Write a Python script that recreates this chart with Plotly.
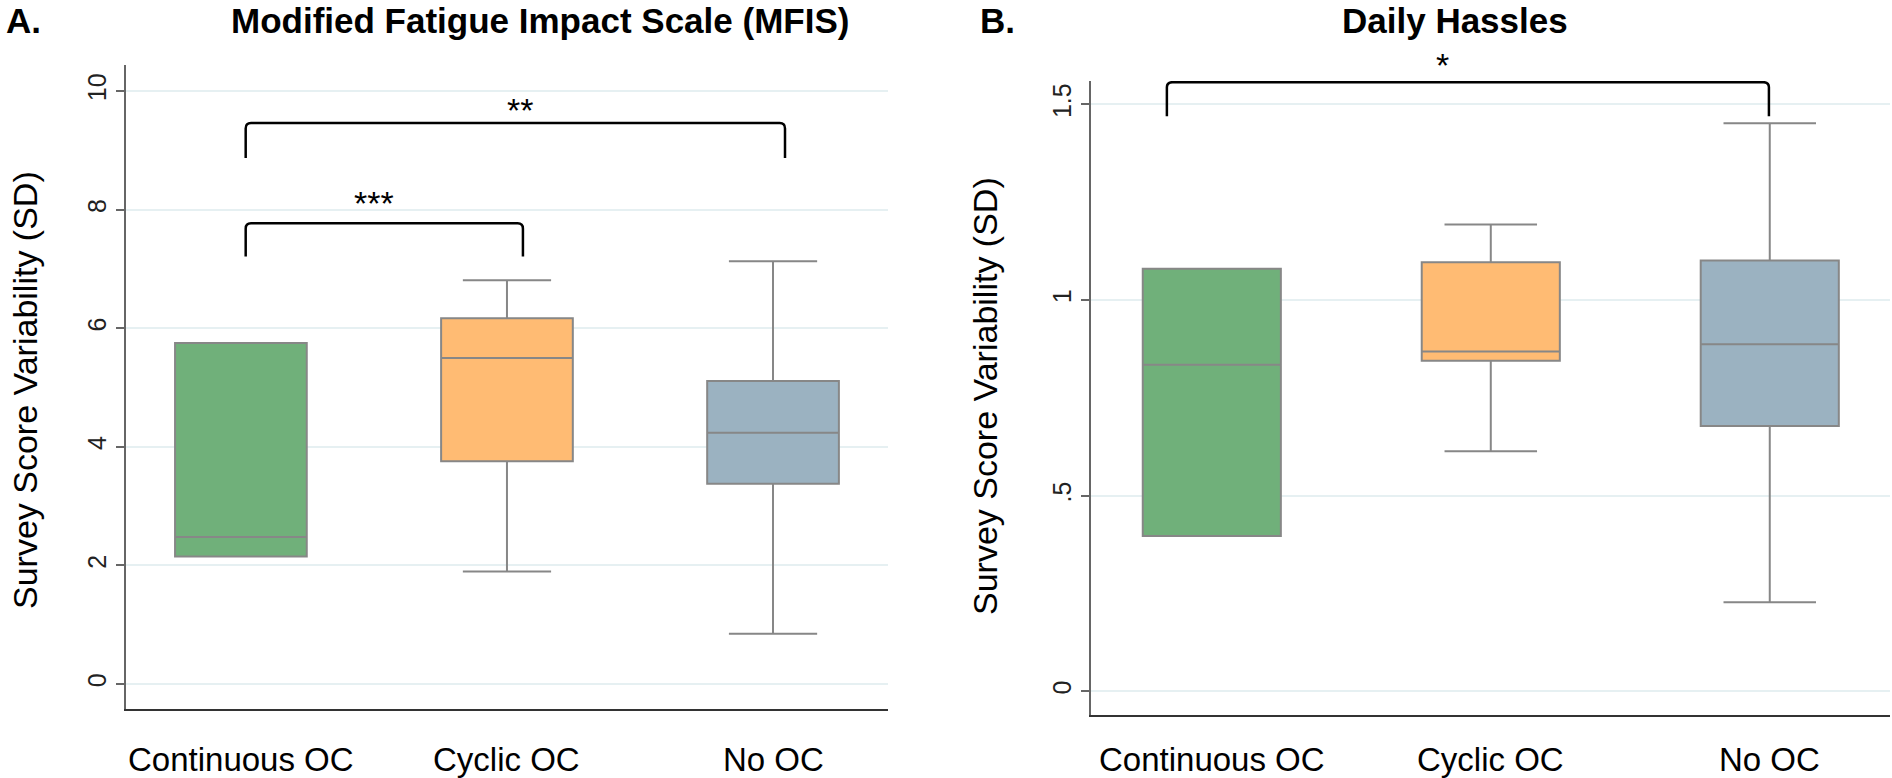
import plotly.graph_objects as go

W, H = 1892, 778

categories = ["Continuous OC", "Cyclic OC", "No OC"]
positions = [0, 1, 2]
colors = ["#70B07A", "#FFBB73", "#9BB2C1"]

# Panel A: MFIS variability (SD)
mfis_lo = [2.15, 1.90, 0.85]
mfis_q1 = [2.15, 3.76, 3.38]
mfis_med = [2.48, 5.50, 4.24]
mfis_q3 = [5.75, 6.17, 5.11]
mfis_hi = [5.75, 6.81, 7.13]
mfis_ticks = [0, 2, 4, 6, 8, 10]
mfis_ticktext = ["0", "2", "4", "6", "8", "10"]

# Panel B: Daily Hassles variability (SD)
dh_lo = [0.397, 0.614, 0.228]
dh_q1 = [0.397, 0.845, 0.678]
dh_med = [0.835, 0.869, 0.887]
dh_q3 = [1.080, 1.097, 1.101]
dh_hi = [1.080, 1.193, 1.452]
dh_ticks = [0, 0.5, 1, 1.5]
dh_ticktext = ["0", ".5", "1", "1.5"]

# significance brackets: (x0, x1, y_top, y_bottom, label, label_x, label_shift_px)
mfis_brackets = [
    (0.018, 1.06, 7.77, 7.21, "***", 0.50, 28),
    (0.018, 2.045, 9.46, 8.87, "**", 1.05, 21),
]
dh_brackets = [
    (-0.161, 1.997, 1.557, 1.470, "*", 0.826, 25),
]

FONT = "Liberation Sans, Arial, sans-serif"
GRID = "#E6F0F2"
BOXLINE = "#878787"

fig = go.Figure()


def add_boxes(lo, q1, med, q3, hi, xa, ya):
    for i, cat in enumerate(categories):
        fig.add_trace(go.Box(
            x=[positions[i]], lowerfence=[lo[i]], q1=[q1[i]], median=[med[i]],
            q3=[q3[i]], upperfence=[hi[i]], name=cat,
            fillcolor=colors[i], line=dict(color=BOXLINE, width=2),
            width=0.495, whiskerwidth=0.67, boxpoints=False,
            showlegend=False, xaxis=xa, yaxis=ya, hoverinfo="skip",
        ))


add_boxes(mfis_lo, mfis_q1, mfis_med, mfis_q3, mfis_hi, "x", "y")
add_boxes(dh_lo, dh_q1, dh_med, dh_q3, dh_hi, "x2", "y2")


def add_brackets(brs, xref, yref, rx, ry):
    for x0, x1, yt, yb, lab, lx, shift in brs:
        path = (f"M {x0},{yb} L {x0},{yt - ry} Q {x0},{yt} {x0 + rx},{yt} "
                f"L {x1 - rx},{yt} Q {x1},{yt} {x1},{yt - ry} L {x1},{yb}")
        fig.add_shape(type="path", path=path, xref=xref, yref=yref,
                      line=dict(color="black", width=2.5))
        fig.add_annotation(x=lx, y=yt, xref=xref, yref=yref, text=lab,
                           showarrow=False, yshift=shift - 8,
                           font=dict(family=FONT, size=34, color="black"))


add_brackets(mfis_brackets, "x", "y", 0.02, 0.09)
add_brackets(dh_brackets, "x2", "y2", 0.02, 0.013)

xrange = [-0.433, 2.431]
xcommon = dict(range=xrange, showgrid=False, zeroline=False, showticklabels=False,
               ticks="", showline=True, linecolor="#333333", linewidth=2,
               tickvals=positions)
ycommon = dict(showgrid=True, gridcolor=GRID, gridwidth=2, zeroline=False,
               showline=True, linecolor="#666666", linewidth=2,
               ticks="outside", ticklen=8, tickwidth=2, tickcolor="#666666",
               tickangle=-90, ticklabelstandoff=0,
               tickfont=dict(family=FONT, size=25, color="#222222"))

fig.update_layout(
    width=W, height=H, margin=dict(l=0, r=0, t=0, b=0),
    paper_bgcolor="white", plot_bgcolor="white", boxmode="overlay",
    xaxis=dict(domain=[125.7 / W, 887.7 / W], anchor="y", **xcommon),
    yaxis=dict(domain=[1 - 709 / H, 1 - 65 / H], anchor="x", range=[-0.42, 10.44],
               tickvals=mfis_ticks, ticktext=mfis_ticktext, **ycommon),
    xaxis2=dict(domain=[1091 / W, 1890 / W], anchor="y2", **xcommon),
    yaxis2=dict(domain=[1 - 714.5 / H, 1 - 81 / H], anchor="x2", range=[-0.059, 1.560],
                tickvals=dh_ticks, ticktext=dh_ticktext, **ycommon),
)

# category labels
for xref in ["x", "x2"]:
    for i, cat in enumerate(categories):
        fig.add_annotation(x=positions[i], y=1 - 759 / H, xref=xref, yref="paper",
                           text=cat, showarrow=False, yanchor="middle",
                           font=dict(family=FONT, size=33, color="black"))

# y-axis titles
for xp, yp in [(25 / W, 390 / H), (985 / W, 396 / H)]:
    fig.add_annotation(x=xp, y=1 - yp, xref="paper", yref="paper",
                       text="Survey Score Variability (SD)", textangle=-90,
                       showarrow=False, xanchor="center", yanchor="middle",
                       font=dict(family=FONT, size=34, color="black"))

# panel titles
titles = [("A.", 4 / W, "left"), ("Modified Fatigue Impact Scale (MFIS)", 540 / W, "center"),
          ("B.", 978 / W, "left"), ("Daily Hassles", 1455 / W, "center")]
for txt, xp, anc in titles:
    fig.add_annotation(x=xp, y=1 - 20 / H, xref="paper", yref="paper", text=f"<b>{txt}</b>",
                       showarrow=False, xanchor=anc, yanchor="middle",
                       font=dict(family=FONT, size=35, color="black"))

fig.write_html("out.html", config={"displayModeBar": False},
               post_script="document.body.style.margin='0';document.body.style.overflow='hidden';")
